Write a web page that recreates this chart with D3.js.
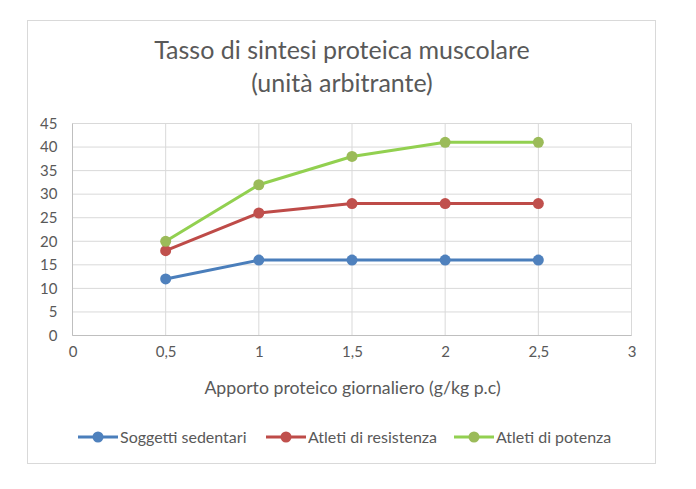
<!DOCTYPE html>
<html><head><meta charset="utf-8">
<script src="https://cdn.jsdelivr.net/npm/d3@7"></script>
<style>body{margin:0;background:#fff}svg{display:block}text{font-family:Lato,"Open Sans",sans-serif}</style>
</head><body><svg id="c" width="696" height="489"></svg>
<script>
const xValues = [0.5, 1, 1.5, 2, 2.5];
const seriesNames = ["Soggetti sedentari", "Atleti di resistenza", "Atleti di potenza"];
const sedentari = [12, 16, 16, 16, 16];
const resistenza = [18, 26, 28, 28, 28];
const potenza = [20, 32, 38, 41, 41];
const xTicks = [0, 0.5, 1, 1.5, 2, 2.5, 3];
const yTicks = [0, 5, 10, 15, 20, 25, 30, 35, 40, 45];
const lineColors = ["#4A7EBB", "#BE4B48", "#92D050"];
const markerColors = ["#4F81BD", "#C0504D", "#9BBB59"];
const titleLines = ["Tasso di sintesi proteica muscolare", "(unità arbitrante)"];
const xTitle = "Apporto proteico giornaliero (g/kg p.c)";

const FONT = "Lato,'Open Sans',sans-serif";
const svg = d3.select("#c");
svg.append("rect").attr("x",27.5).attr("y",20.5).attr("width",628).attr("height",443)
  .attr("fill","#fff").attr("stroke","#D9D9D9");

const x = d3.scaleLinear().domain([0,3]).range([72.5,631.5]);
const y = d3.scaleLinear().domain([0,45]).range([335.5,123.5]);

const g = svg.append("g");
g.selectAll(".hg").data(yTicks).join("line")
  .attr("x1",x(0)).attr("x2",x(3)).attr("y1",d=>y(d)).attr("y2",d=>y(d))
  .attr("stroke","#D9D9D9");
g.selectAll(".vg").data(xTicks).join("line")
  .attr("x1",d=>x(d)).attr("x2",d=>x(d)).attr("y1",y(0)).attr("y2",y(45))
  .attr("stroke","#D9D9D9");
g.append("line").attr("x1",x(0)).attr("x2",x(0)).attr("y1",y(0)).attr("y2",y(45)).attr("stroke","#BFBFBF");
g.append("line").attr("x1",x(0)).attr("x2",x(3)).attr("y1",y(0)).attr("y2",y(0)).attr("stroke","#BFBFBF");

const fmt = d => String(d).replace(".", ",");
const yAxis = d3.axisLeft(y).tickValues(yTicks).tickSize(0).tickPadding(15).tickFormat(fmt);
const ya = svg.append("g").attr("transform",`translate(${x(0)},0)`).call(yAxis);
ya.select(".domain").remove();
ya.selectAll("text").attr("font-size",15).attr("fill","#595959").style("font-family",FONT);

const xAxis = d3.axisBottom(x).tickValues(xTicks).tickSize(0).tickPadding(11).tickFormat(fmt);
const xa = svg.append("g").attr("transform",`translate(0,${y(0)})`).call(xAxis);
xa.select(".domain").remove();
xa.selectAll("text").attr("font-size",15).attr("fill","#595959").style("font-family",FONT);

const allSeries = [sedentari, resistenza, potenza];
const line = d3.line().x((d,i)=>x(xValues[i])).y(d=>y(d));
allSeries.forEach((s,k)=>{
  svg.append("path").datum(s).attr("d",line).attr("fill","none")
    .attr("stroke",lineColors[k]).attr("stroke-width",3).attr("stroke-linejoin","round").attr("stroke-linecap","round");
  svg.selectAll(null).data(s).join("circle")
    .attr("cx",(d,i)=>x(xValues[i])).attr("cy",d=>y(d)).attr("r",5.5).attr("fill",markerColors[k]);
});

svg.selectAll(".t").data(titleLines).join("text")
  .attr("x",342).attr("y",(d,i)=>59+i*33).attr("text-anchor","middle")
  .attr("font-size",25).attr("fill","#595959").text(d=>d);

svg.append("text").attr("x",352.5).attr("y",394).attr("text-anchor","middle")
  .attr("font-size",17.7).attr("fill","#595959").text(xTitle);

const legX = [78, 266, 454];
seriesNames.forEach((n,k)=>{
  const lg = svg.append("g").attr("transform",`translate(${legX[k]},437)`);
  lg.append("line").attr("x1",0).attr("x2",40).attr("y1",0).attr("y2",0).attr("stroke",lineColors[k]).attr("stroke-width",3);
  lg.append("circle").attr("cx",20).attr("cy",0).attr("r",5.5).attr("fill",markerColors[k]);
  lg.append("text").attr("x",42).attr("y",5.5).attr("font-size",16).attr("fill","#595959").text(n);
});
</script></body></html>
